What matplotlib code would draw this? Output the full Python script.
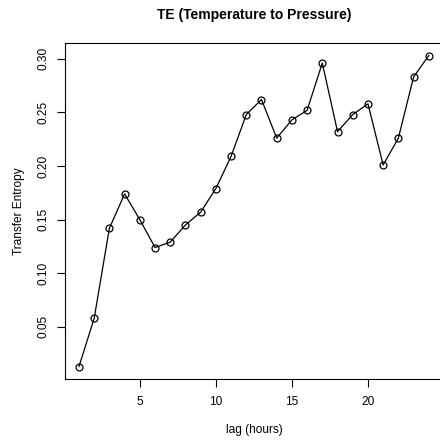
import matplotlib
matplotlib.use("Agg")
import matplotlib.pyplot as plt
import numpy as np

plt.rcParams['font.family'] = ['Liberation Sans', 'DejaVu Sans']

# lag in hours and transfer entropy
lag = np.arange(1, 25)
te = [0.013, 0.058, 0.142, 0.174, 0.150, 0.124, 0.129, 0.145, 0.157, 0.179,
      0.209, 0.248, 0.262, 0.226, 0.243, 0.252, 0.296, 0.232, 0.248, 0.258,
      0.201, 0.226, 0.283, 0.303]
xticks = [5, 10, 15, 20]
yticks = [0.05, 0.10, 0.15, 0.20, 0.25, 0.30]

fig = plt.figure(figsize=(4.40, 4.43), dpi=100)
ax = fig.add_axes([0.1477, 0.1445, 0.8586, 0.7584])

ax.plot(lag, te, color="black", linewidth=0.9, marker='o', markersize=5,
        markerfacecolor='none', markeredgecolor='black', markeredgewidth=0.9)

ax.set_xlim(0.08, 24.92)
ax.set_ylim(0.0014, 0.3147)
ax.set_xticks(xticks)
ax.set_xticklabels([str(t) for t in xticks])
ax.set_yticks(yticks)
ax.set_yticklabels(["%.2f" % t for t in yticks], rotation=90, va='center')
ax.tick_params(direction='out', length=5.5, width=0.8, labelsize=8.6)
ax.tick_params(axis='x', pad=7)
ax.tick_params(axis='y', pad=6)

for s in ax.spines.values():
    s.set_linewidth(0.8)

# R-style label placement
ax.set_title("TE (Temperature to Pressure)", fontsize=10, fontweight='bold',
             y=1.083, va='center', pad=0)
ax.set_xlabel("lag (hours)", fontsize=8.6, va='center')
ax.xaxis.set_label_coords(0.5, -0.152)
ax.set_ylabel("Transfer Entropy", fontsize=8.6, va='center')
ax.yaxis.set_label_coords(-0.123, 0.5)

plt.savefig("out.png", dpi=100)
